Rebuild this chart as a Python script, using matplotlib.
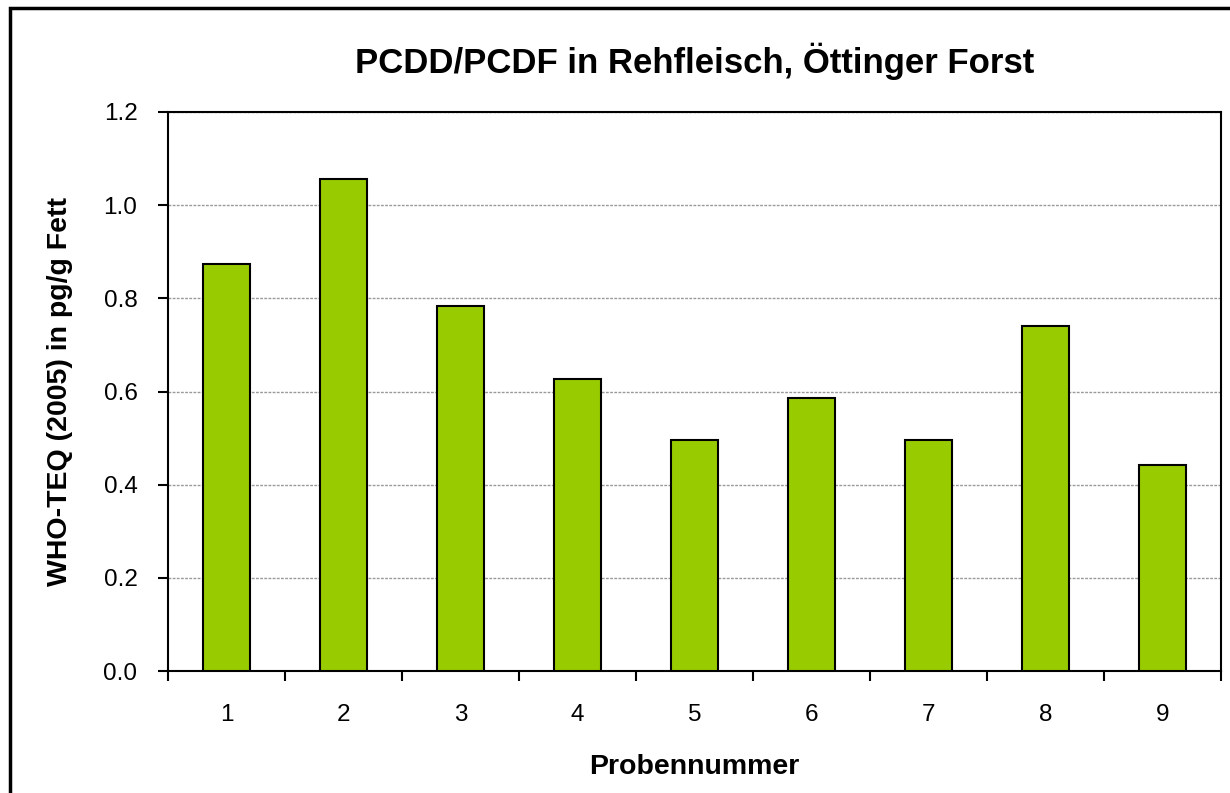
import matplotlib
matplotlib.use("Agg")
import matplotlib.pyplot as plt
from matplotlib.patches import Rectangle

plt.rcParams['font.family'] = ['Liberation Sans', 'DejaVu Sans']

# data
samples = ["1", "2", "3", "4", "5", "6", "7", "8", "9"]
teq = [0.873, 1.056, 0.783, 0.627, 0.496, 0.586, 0.496, 0.740, 0.442]
yticks = [0.0, 0.2, 0.4, 0.6, 0.8, 1.0, 1.2]

fig = plt.figure(figsize=(12.3, 7.93), dpi=100)
ax = fig.add_axes([168/1230, 1 - 671/793, (1221-168)/1230, (671-112)/793])

x = list(range(len(samples)))
ax.bar(x, teq, width=0.4, color="#99cc00", edgecolor="black", linewidth=1.5, zorder=3)

ax.set_xlim(-0.5, len(samples) - 0.5)
ax.set_ylim(0, 1.2)
ax.set_yticks(yticks)
ax.set_yticklabels(["%.1f" % v for v in yticks])
ax.set_xticks(x)
ax.set_xticklabels(samples)
ax.tick_params(axis='x', length=0, labelsize=17.5, pad=24)
ax.tick_params(axis='y', length=7, width=1.5, labelsize=17.5, pad=15)
# category boundary ticks
ax.set_xticks([i - 0.5 for i in range(len(samples) + 1)], minor=True)
ax.tick_params(axis='x', which='minor', length=7, width=1.5, direction='out')

for s in ax.spines.values():
    s.set_linewidth(1.5)
ax.grid(axis='y', color='#999999', linestyle=(0, (2, 1)), linewidth=1, zorder=0)

ax.set_title("PCDD/PCDF in Rehfleisch, Öttinger Forst", fontsize=25, fontweight='bold', pad=28)
ax.set_xlabel("Probennummer", fontsize=20.5, fontweight='bold', labelpad=20)
ax.set_ylabel("WHO-TEQ (2005) in pg/g Fett", fontsize=20.5, fontweight='bold', labelpad=22)

# outer chart border (cut off at right and bottom)
fig.patches.append(Rectangle((10/1230, -0.05), 1.1, 1 - 8/793 + 0.05, transform=fig.transFigure,
                             fill=False, edgecolor='black', linewidth=2.5))

fig.savefig("out.png", dpi=100)
